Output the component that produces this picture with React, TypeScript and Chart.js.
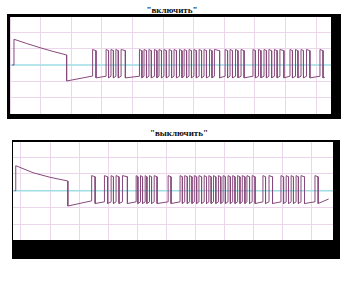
import React, { useEffect, useRef } from "react";
import { Chart, registerables } from "chart.js";

Chart.register(...registerables);

// ---- "включить" trace (x in grid divisions, y in divisions from zero line) ----
const ON_TITLE = "\"включить\"";
const ON_LEAD_X = [0.07, 0.13, 0.13, 0.55, 0.98, 1.41, 1.85, 1.85, 2.7];
const ON_LEAD_Y = [0, 0, 1.56, 1.3, 1.05, 0.82, 0.61, -0.97, -0.67];
const ON_RISE = [
  2.7, 3.14, 3.3, 3.46, 3.63, 4.23, 4.38, 4.54, 4.72, 4.87, 5.03, 5.2, 5.36,
  5.54, 5.69, 5.85, 6.01, 6.18, 6.34, 6.52, 6.68, 7.03, 7.19, 7.37, 7.55,
  7.94, 8.12, 8.3, 8.46, 8.64, 8.82, 9.15, 9.33, 9.51, 9.69, 10.13,
];
const ON_FALL = [
  2.81, 3.22, 3.38, 3.54, 3.77, 4.31, 4.46, 4.62, 4.8, 4.95, 5.11, 5.28, 5.44,
  5.62, 5.77, 5.93, 6.09, 6.26, 6.42, 6.6, 6.85, 7.11, 7.27, 7.45, 7.65,
  8.02, 8.2, 8.38, 8.55, 8.73, 8.95, 9.23, 9.41, 9.59, 9.8, 10.23,
];
const ON_LEVELS = { highStart: 0.94, highEnd: 0.87, lowStart: -0.78, lowEnd: -0.68 };
const ON_END = { x: 10.29, y: -0.74 };

// ---- "выключить" trace ----
const OFF_TITLE = "\"выключить\"";
const OFF_LEAD_X = [-0.22, -0.18, -0.18, 0.42, 1.0, 1.61, 1.61, 2.43];
const OFF_LEAD_Y = [0, 0, 1.49, 1.07, 0.8, 0.58, -0.91, -0.6];
const OFF_RISE = [
  2.43, 2.87, 3.1, 3.27, 3.49, 3.96, 4.11, 4.27, 4.42, 4.58, 5.06, 5.47, 5.63,
  5.8, 5.96, 6.12, 6.3, 6.46, 6.62, 6.79, 6.95, 7.12, 7.28, 7.45, 7.61, 7.77,
  7.95, 8.32, 8.53, 8.94, 9.12, 9.29, 9.46, 9.63, 10.11,
];
const OFF_FALL = [
  2.55, 2.98, 3.18, 3.37, 3.66, 4.02, 4.18, 4.33, 4.49, 4.68, 5.16, 5.55, 5.72,
  5.88, 6.04, 6.21, 6.38, 6.54, 6.7, 6.87, 7.03, 7.2, 7.36, 7.53, 7.7, 7.86,
  8.05, 8.41, 8.65, 9.03, 9.2, 9.37, 9.54, 9.75, 10.22,
];
const OFF_LEVELS = { highStart: 0.9, highEnd: 0.83, lowStart: -0.76, lowEnd: -0.66 };
const OFF_END = { x: 10.58, y: -0.49 };

const GRID_X = [0, 1, 2, 3, 4, 5, 6, 7, 8, 9, 10];
const GRID_Y = [-2, -1, 1, 2];

const TRACE_COLOR = "#86497b";
const GRID_COLOR = "#ecd6ec";
const ZERO_COLOR = "#9edde6";

type Levels = { highStart: number; highEnd: number; lowStart: number; lowEnd: number };

function buildTrace(
  leadX: number[],
  leadY: number[],
  rise: number[],
  fall: number[],
  lv: Levels,
  end: { x: number; y: number }
) {
  const pts: { x: number; y: number }[] = leadX.map((x, i) => ({ x, y: leadY[i] }));
  rise.forEach((r, i) => {
    if (i > 0) pts.push({ x: r, y: lv.lowEnd });
    pts.push({ x: r, y: lv.highStart });
    pts.push({ x: fall[i], y: lv.highEnd });
    pts.push({ x: fall[i], y: lv.lowStart });
  });
  pts.push(end);
  return pts;
}

// Zero reference line, drawn as a second dataset spanning the full x range.
function zeroSet(xMin: number, xMax: number) {
  return [
    { x: xMin, y: 0 },
    { x: xMax, y: 0 },
  ];
}

type ScopeProps = {
  data: { x: number; y: number }[];
  xMin: number;
  xMax: number;
  yMin: number;
  yMax: number;
  style: React.CSSProperties;
};

function Scope({ data, xMin, xMax, yMin, yMax, style }: ScopeProps) {
  const ref = useRef<HTMLCanvasElement | null>(null);
  useEffect(() => {
    if (!ref.current) return;
    const chart = new Chart(ref.current, {
      type: "line",
      data: {
        datasets: [
          {
            data,
            borderColor: TRACE_COLOR,
            borderWidth: 1,
            pointRadius: 0,
            tension: 0,
            fill: false,
            order: 0,
          },
          {
            data: zeroSet(xMin, xMax),
            borderColor: ZERO_COLOR,
            borderWidth: 1.4,
            pointRadius: 0,
            fill: false,
            order: 1,
          },
        ],
      },
      options: {
        animation: false,
        responsive: false,
        maintainAspectRatio: false,
        layout: { padding: 0 },
        plugins: { legend: { display: false }, tooltip: { enabled: false } },
        scales: {
          x: {
            type: "linear",
            min: xMin,
            max: xMax,
            afterBuildTicks: (axis: any) => {
              axis.ticks = GRID_X.map((v) => ({ value: v }));
            },
            ticks: { display: false },
            border: { display: false },
            grid: { color: GRID_COLOR, lineWidth: 1, drawTicks: false },
          },
          y: {
            type: "linear",
            min: yMin,
            max: yMax,
            afterBuildTicks: (axis: any) => {
              axis.ticks = GRID_Y.map((v) => ({ value: v }));
            },
            ticks: { display: false },
            border: { display: false },
            grid: { color: GRID_COLOR, lineWidth: 1, drawTicks: false },
          },
        },
      },
    });
    return () => chart.destroy();
  }, [data, xMin, xMax, yMin, yMax]);
  const w = style.width as number;
  const h = style.height as number;
  return (
    <canvas
      ref={ref}
      width={w}
      height={h}
      style={{ position: "absolute", background: "#fff", ...style }}
    />
  );
}

const titleStyle: React.CSSProperties = {
  position: "absolute",
  width: 120,
  textAlign: "center",
  fontFamily: "'Liberation Serif', 'Times New Roman', serif",
  fontWeight: "bold",
  fontSize: 9,
  lineHeight: "10px",
  color: "#111",
  whiteSpace: "nowrap",
};

export default function App() {
  const onData = buildTrace(ON_LEAD_X, ON_LEAD_Y, ON_RISE, ON_FALL, ON_LEVELS, ON_END);
  const offData = buildTrace(OFF_LEAD_X, OFF_LEAD_Y, OFF_RISE, OFF_FALL, OFF_LEVELS, OFF_END);
  return (
    <div
      style={{
        position: "fixed",
        left: 0,
        top: 0,
        width: 350,
        height: 287,
        background: "#fff",
        overflow: "hidden",
      }}
    >
      <div style={{ ...titleStyle, left: 172 - 60, top: 5 }}>{ON_TITLE}</div>
      <div style={{ position: "absolute", left: 7, top: 14, width: 334, height: 105, background: "#000" }} />
      <Scope
        data={onData}
        xMin={0}
        xMax={10.49}
        yMin={-2.97}
        yMax={2.91}
        style={{ left: 10, top: 17, width: 321, height: 97 }}
      />

      <div style={{ ...titleStyle, left: 179 - 60, top: 128 }}>{OFF_TITLE}</div>
      <div style={{ position: "absolute", left: 12, top: 140, width: 328, height: 119, background: "#000" }} />
      <Scope
        data={offData}
        xMin={-0.275}
        xMax={10.73}
        yMin={-2.93}
        yMax={2.9}
        style={{ left: 13, top: 142, width: 320, height: 98 }}
      />
    </div>
  );
}
